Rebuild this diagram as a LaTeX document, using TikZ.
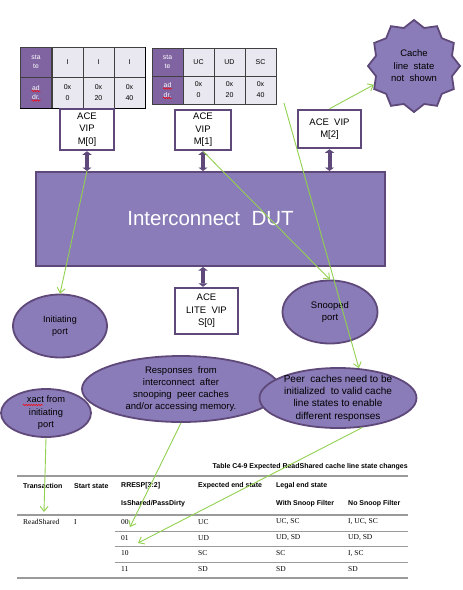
\documentclass[tikz,border=0pt]{standalone}
\usepackage{fontspec}
\setmainfont{Liberation Sans}
\newfontfamily\tabserif{Liberation Serif}
\usetikzlibrary{shapes.geometric,arrows.meta,positioning,calc,decorations.pathmorphing}
\definecolor{vipline}{HTML}{5F497A}
\definecolor{dutfill}{HTML}{8A7CB8}
\definecolor{hdrfill}{HTML}{8064A2}
\definecolor{cellfill}{HTML}{E9E7EF}
\definecolor{notegreen}{HTML}{92D050}
\definecolor{rulegray}{HTML}{9A9A9A}

\begin{document}
\begin{tikzpicture}[x=1pt,y=-1pt,
  cell/.style={draw=black!75,line width=0.8pt,fill=cellfill,minimum width=31pt,inner sep=0pt,align=center,font=\fontsize{7}{11}\selectfont},
  hdr/.style={cell,fill=hdrfill,text=white,font=\fontsize{6.8}{9.5}\selectfont},
  vip/.style={draw=vipline,line width=2.5pt,fill=white,inner sep=0pt,align=center,font=\fontsize{9.5}{12.5}\selectfont},
  port/.style={ellipse,draw=vipline,line width=1.8pt,fill=dutfill,inner sep=0pt,inner ysep=-5pt,align=center,font=\fontsize{9}{12.3}\selectfont},
  link/.style={vipline,line width=4pt,{Triangle[width=9pt,length=3.5pt]}-{Triangle[width=9pt,length=3.5pt]}},
  note/.style={notegreen,line width=0.9pt,-{Straight Barb[length=5pt,width=8pt]}},
  spell/.style={red,line width=0.5pt,decorate,decoration={snake,amplitude=0.7pt,segment length=2.5pt}},
  hrule/.style={rulegray,line width=1.3pt},
  thead/.style={anchor=west,inner sep=0pt,font=\fontsize{7}{8}\selectfont\bfseries},
  tdata/.style={anchor=west,inner sep=0pt,font=\fontsize{7.5}{8}\selectfont\tabserif}]
\useasboundingbox (0,0) rectangle (463,590);

\node[hdr,minimum height=30pt] (ta-s) at (36,62) {sta\\te};
\node[hdr,minimum height=31pt] (ta-a) at (36,92.5) {ad\\dr.};
\foreach \x/\s/\a [count=\i] in {67.5/I/0, 98.5/I/20, 129.5/I/40} {
  \node[cell,minimum height=30pt] (ta-s\i) at (\x,62) {\s};
  \node[cell,minimum height=31pt] (ta-a\i) at (\x,92.5) {0x\\\a};
}
\draw[black,line width=1.2pt] (ta-s3.north east) -- (ta-a3.south east) -- (ta-a.south west);
\node[hdr,minimum height=28pt] (tb-s) at (167.5,62) {sta\\te};
\node[hdr,minimum height=28pt] (tb-a) at (167.5,90) {ad\\dr.};
\foreach \x/\s/\a [count=\i] in {198.5/UC/0, 229.5/UD/20, 260.5/SC/40} {
  \node[cell,minimum height=28pt] (tb-s\i) at (\x,62) {\s};
  \node[cell,minimum height=28pt] (tb-a\i) at (\x,90) {0x\\\a};
}
\foreach \n in {ta-a,tb-a} {
  \draw[spell] ($(\n)+(-4.5,-1.5)$) -- ++(9,0);
  \draw[spell] ($(\n)+(-4.5,8)$) -- ++(9,0);
}

\node[vip,minimum width=54pt,minimum height=41pt] (m0) at (87,129.5) {ACE\\VIP\\M[0]};
\node[vip,minimum width=56pt,minimum height=40pt] (m1) at (203,130) {ACE\\VIP\\M[1]};
\node[vip,minimum width=63pt,minimum height=38pt] (m2) at (329.5,129) {ACE\ \ VIP\\M[2]};
\node[star,star points=12,star point ratio=1.17,draw=vipline,line width=1.8pt,fill=dutfill,minimum size=92pt,inner sep=0pt,align=center,font=\fontsize{9.5}{12.5}\selectfont] (cloud) at (414,66) {Cache\\line\ \ state\\not\ \ shown};

\node[draw=vipline,line width=2pt,fill=dutfill,minimum width=349pt,minimum height=94pt,text=white,font=\fontsize{20.5}{24}\selectfont] (dut) at (210.5,219) {Interconnect\ \ DUT};
\node[vip,minimum width=63pt,minimum height=46pt] (s0) at (206.5,311) {ACE\\LITE\ \ VIP\\S[0]};

\draw[link] (m0) -- (m0 |- dut.north);
\draw[link] (m1) -- (m1 |- dut.north);
\draw[link] (m2) -- (m2 |- dut.north);
\draw[link] (dut.south -| m1.south) -- (s0.north -| m1.south);

\node[port,minimum width=94pt,minimum height=63pt] (init) at (60,326) {Initiating\\port};
\node[port,minimum width=95pt,minimum height=63pt,font=\fontsize{9.5}{12.3}\selectfont] (snoop) at (330,312) {Snooped\\port};
\node[port,minimum width=198pt,minimum height=66pt,font=\fontsize{9.5}{12}\selectfont] (resp) at (181,389) {Responses\ \ from\\interconnect\ \ after\\snooping\ \ peer caches\\and/or accessing memory.};
\node[port,minimum width=157pt,minimum height=60pt,font=\fontsize{10}{12.3}\selectfont] (peer) at (338,398) {Peer\ \ caches need to be\\initialized\ \ to valid cache\\line states to enable\\different responses};
\node[port,minimum width=90pt,minimum height=48pt,font=\fontsize{9.3}{12.5}\selectfont] (xact) at (46,413) {xact from\\initiating\\port};
\draw[spell] ($(xact)+(-23,-8)$) -- ++(20,0);

\node[anchor=east,inner sep=0pt,font=\fontsize{7}{8}\selectfont\bfseries] (ttl) at (408,467) {Table C4-9 Expected ReadShared cache line state changes};
\draw[hrule] (17,476) -- (408,476);
\node[thead] (h1) at (23,486) {Transaction};
\node[thead] (h2) at (74,486) {Start state};
\node[thead] (h3) at (121,486) {RRESP[3:2]};
\node[thead] (h4) at (198,486) {Expected end state};
\node[thead] (h5) at (276,486) {Legal end state};
\node[thead] (h6) at (121,504) {IsShared/PassDirty};
\node[thead] (h7) at (276,504) {With Snoop Filter};
\node[thead] (h8) at (348,504) {No Snoop Filter};
\draw[hrule] (17,515) -- (408,515);
\node[tdata] (d-t) at (23,522) {ReadShared};
\node[tdata] (d-s) at (74,522) {I};
\foreach \y/\r/\e/\w/\n [count=\i] in {522/00/UC/{UC, SC}/{I, UC, SC}, 538/01/UD/{UD, SD}/{UD, SD}, 553.5/10/SC/SC/{I, SC}, 569/11/SD/SD/SD} {
  \node[tdata] (d-r\i) at (121,\y) {\r};
  \node[tdata] (d-e\i) at (198,\y) {\e};
  \node[tdata] (d-w\i) at (276,\y) {\w};
  \node[tdata] (d-n\i) at (348,\y) {\n};
}
\foreach \y in {531,546.5,562} \draw[rulegray,line width=1pt] (115,\y) -- (408,\y);
\draw[hrule] (17,578) -- (408,578);

\coordinate (c3) at (284,103);
\coordinate (rs) at (44,512);
\coordinate (r00) at (130,527);
\coordinate (r01) at (138,543);
\draw[note] (m0 |- dut.north) -- (init.north);
\draw[note] (m1.south) -- (snoop.north);
\draw[note] (c3) -- (peer.55);
\draw[note] (m2.north) -- (cloud.205);
\draw[note] (xact.south) -- (rs);
\draw[note] (resp.south) -- (r00);
\draw[note] (peer.310) -- (r01);
\end{tikzpicture}
\end{document}
